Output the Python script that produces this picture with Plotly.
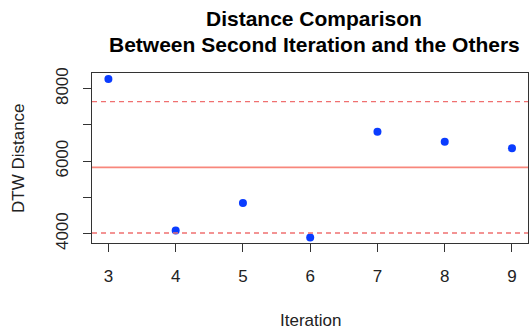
import plotly.graph_objects as go

iterations = [3, 4, 5, 6, 7, 8, 9]
dtw_distance = [8268, 4091, 4847, 3898, 6811, 6535, 6359]
mean_value = 5830
upper_bound = 7641
lower_bound = 4019
x_ticks = [3, 4, 5, 6, 7, 8, 9]
y_ticks = [4000, 6000, 8000]
y_minor = [5000, 7000]

W, H = 530, 330
L, R, T, B = 92, 2, 73, 87
pw, ph = W - L - R, H - T - B


def px_x(x):
    return (x - L) / pw


def px_y(y):
    return 1 - (y - T) / ph


fig = go.Figure()
fig.add_trace(go.Scatter(x=iterations, y=dtw_distance, mode="markers",
                         marker=dict(color="#0A3CFF", size=8, line=dict(width=0)),
                         showlegend=False, cliponaxis=False))

fig.add_hline(y=mean_value, line=dict(color="#F8877C", width=1.6))
fig.add_hline(y=upper_bound, line=dict(color="#F07070", width=1.3, dash="5px,4px"))
fig.add_hline(y=lower_bound, line=dict(color="#F07070", width=1.3, dash="5px,4px"))

font = "Liberation Sans, Arial, sans-serif"
fig.update_layout(
    width=W, height=H,
    margin=dict(l=L, r=R, t=T, b=B),
    plot_bgcolor="white", paper_bgcolor="white",
    font=dict(family=font, size=17, color="#222"),
    xaxis=dict(range=[2.756, 9.238], tickvals=x_ticks, showgrid=False, zeroline=False,
               showline=True, linecolor="#333", linewidth=1, mirror=True,
               ticks="outside", ticklen=8, tickcolor="#333", tickfont=dict(size=17),
               ticklabelstandoff=10),
    yaxis=dict(range=[3743, 8433], tickvals=y_ticks, showgrid=False, zeroline=False,
               showline=True, linecolor="#333", linewidth=1, mirror=True,
               ticks="outside", ticklen=8, tickcolor="#333", tickangle=-90,
               tickfont=dict(size=17), ticklabelstandoff=8,
               minor=dict(tickvals=y_minor, ticks="outside", ticklen=8, tickcolor="#333")),
    annotations=[
        dict(text="<b>Distance Comparison</b>", x=px_x(314), y=px_y(18),
             xref="paper", yref="paper", showarrow=False, xanchor="center", yanchor="middle",
             font=dict(size=21, color="black")),
        dict(text="<b>Between Second Iteration and the Others</b>", x=px_x(314), y=px_y(45),
             xref="paper", yref="paper", showarrow=False, xanchor="center", yanchor="middle",
             font=dict(size=21, color="black")),
        dict(text="Iteration", x=px_x(310), y=px_y(320), xref="paper", yref="paper",
             showarrow=False, xanchor="center", yanchor="middle",
             font=dict(size=17, color="#222")),
        dict(text="DTW Distance", x=px_x(18), y=px_y(158), xref="paper", yref="paper",
             showarrow=False, xanchor="center", yanchor="middle", textangle=-90,
             font=dict(size=17, color="#222")),
    ],
)

fig.write_html("out.html", config={"displayModeBar": False})

with open("out.html", "r", encoding="utf-8") as f:
    html = f.read()
html = html.replace("<body>", '<body style="margin:0;padding:0;overflow:hidden">', 1)
with open("out.html", "w", encoding="utf-8") as f:
    f.write(html)
